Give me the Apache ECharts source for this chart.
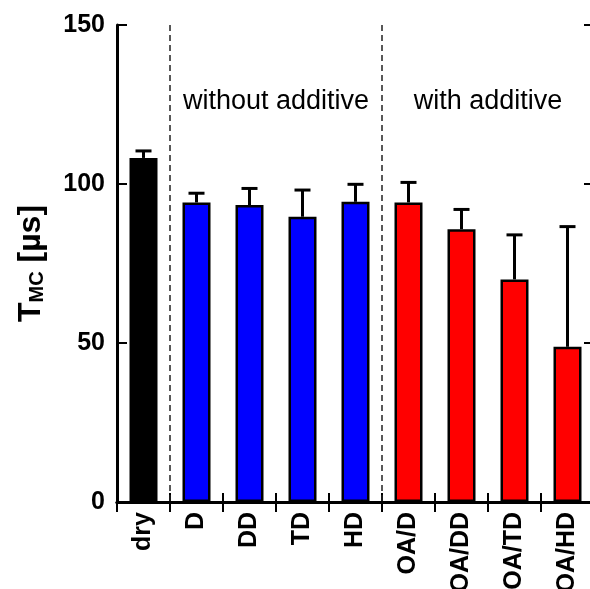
<!DOCTYPE html>
<html>
<head>
<meta charset="utf-8">
<script src="https://cdn.jsdelivr.net/npm/echarts@6/dist/echarts.min.js"></script>
<style>
html,body{margin:0;padding:0;background:#fff;overflow:hidden;}
#chart{width:590px;height:589px;}
</style>
</head>
<body>
<div id="chart"></div>
<script>
const categories = ['dry', 'D', 'DD', 'TD', 'HD', 'OA/D', 'OA/DD', 'OA/TD', 'OA/HD'];
const means = [108.2, 94.2, 93.4, 89.7, 94.4, 94.2, 85.8, 70.0, 48.8];
const errors = [2.2, 2.9, 5.2, 8.4, 5.5, 6.3, 6.2, 14.0, 37.8];
const barColors = ['#000000', '#0000ff', '#0000ff', '#0000ff', '#0000ff', '#ff0000', '#ff0000', '#ff0000', '#ff0000'];
const yTicks = [0, 50, 100, 150];
const dividers = [1, 5];
const groupNames = ['without additive', 'with additive'];
const groupFirst = [1, 5];
const groupLast = [4, 8];

const FONT = 'Liberation Sans, Arial, sans-serif';
const chart = echarts.init(document.getElementById('chart'), null, {renderer: 'canvas'});

const axisLineStyle = {color: '#000', width: 3};

const option = {
  animation: false,
  backgroundColor: '#fff',
  grid: {left: 117, top: 25, width: 477, height: 477, containLabel: false, outerBoundsMode: 'none'},
  xAxis: [
    {
      type: 'category', data: categories, position: 'bottom',
      axisLine: {show: true, lineStyle: axisLineStyle},
      axisTick: {show: true, inside: true, length: 9, interval: 0, lineStyle: {color: '#000', width: 2}},
      axisLabel: {rotate: 90, interval: 0, margin: 10, color: '#000', fontFamily: FONT, fontWeight: 'bold', fontSize: 25},
      splitLine: {show: false}
    },
    {
      type: 'category', data: categories, position: 'top',
      axisLine: {show: true, lineStyle: axisLineStyle},
      axisTick: {show: true, inside: true, length: 10, interval: 0, lineStyle: {color: '#000', width: 2}},
      axisLabel: {show: false},
      splitLine: {show: false}
    }
  ],
  yAxis: [
    {
      type: 'value', min: yTicks[0], max: yTicks[yTicks.length - 1], interval: 50, position: 'left',
      axisLine: {show: true, lineStyle: axisLineStyle},
      axisTick: {show: true, inside: true, length: 10, lineStyle: {color: '#000', width: 2}},
      axisLabel: {margin: 12, color: '#000', fontFamily: FONT, fontWeight: 'bold', fontSize: 25},
      splitLine: {show: false},
      name: '{t|T}{s|MC}{t| [µs]}',
      nameLocation: 'middle', nameRotate: 90, nameGap: 70,
      nameTextStyle: {
        rich: {
          t: {fontFamily: FONT, fontWeight: 'bold', fontSize: 32, color: '#000', lineHeight: 36, verticalAlign: 'bottom'},
          s: {fontFamily: FONT, fontWeight: 'bold', fontSize: 20, color: '#000', lineHeight: 36, verticalAlign: 'bottom', padding: [8, 0, 0, 0]}
        }
      }
    },
    {
      type: 'value', min: yTicks[0], max: yTicks[yTicks.length - 1], interval: 50, position: 'right',
      axisLine: {show: true, lineStyle: axisLineStyle},
      axisTick: {show: true, inside: true, length: 10, lineStyle: {color: '#000', width: 2}},
      axisLabel: {show: false},
      splitLine: {show: false}
    }
  ],
  series: [
    {
      type: 'bar', xAxisIndex: 0, yAxisIndex: 0, barWidth: 28,
      data: means.map((v, i) => ({value: v, itemStyle: {color: barColors[i]}})),
      itemStyle: {borderColor: '#000', borderWidth: 2.5},
      z: 2
    },
    {
      type: 'custom', xAxisIndex: 0, yAxisIndex: 0, z: 3,
      data: means.map((v, i) => [i, v, v + errors[i]]),
      encode: {x: 0, y: [1, 2]},
      renderItem: function (params, api) {
        const i = api.value(0);
        const p0 = api.coord([i, api.value(1)]);
        const p1 = api.coord([i, api.value(2)]);
        const hw = 8;
        return {
          type: 'group',
          children: [
            {type: 'line', shape: {x1: p0[0], y1: p0[1], x2: p1[0], y2: p1[1]}, style: {stroke: '#000', lineWidth: 3}},
            {type: 'line', shape: {x1: p1[0] - hw, y1: p1[1], x2: p1[0] + hw, y2: p1[1]}, style: {stroke: '#000', lineWidth: 3}}
          ]
        };
      }
    },
    {
      type: 'custom', xAxisIndex: 0, yAxisIndex: 0, z: 1,
      data: dividers.map(d => [d]),
      encode: {x: 0},
      renderItem: function (params, api) {
        const d = api.value(0);
        const c = api.coord([d, 0]);
        const bw = api.size([1, 0])[0];
        const x = c[0] - bw / 2;
        const top = api.coord([d, 150])[1];
        return {
          type: 'line',
          shape: {x1: x, y1: top, x2: x, y2: c[1]},
          style: {stroke: '#222', lineWidth: 1.5, lineDash: [6, 4]}
        };
      }
    },
    {
      type: 'custom', xAxisIndex: 0, yAxisIndex: 0, z: 4,
      data: groupNames.map((n, g) => [groupFirst[g], groupLast[g]]),
      encode: {x: [0, 1]},
      renderItem: function (params, api) {
        const a = api.coord([api.value(0), 126]);
        const b = api.coord([api.value(1), 126]);
        return {
          type: 'text',
          style: {
            x: (a[0] + b[0]) / 2, y: a[1],
            text: groupNames[params.dataIndex],
            fill: '#000', font: '27px ' + FONT,
            textAlign: 'center', textVerticalAlign: 'middle'
          }
        };
      }
    }
  ]
};
chart.setOption(option);
</script>
</body>
</html>
